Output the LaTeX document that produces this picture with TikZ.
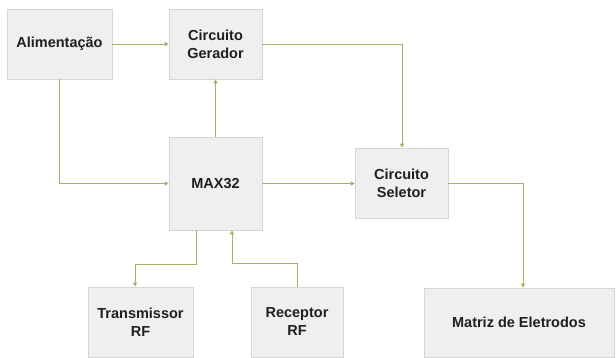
\documentclass[tikz,border=0pt]{standalone}
\usepackage{fontspec}
\setmainfont{Liberation Sans}
\usetikzlibrary{arrows.meta,shadows}
\definecolor{boxfill}{RGB}{239,239,239}
\definecolor{boxline}{RGB}{214,214,214}
\definecolor{linkc}{RGB}{160,180,100}
\tikzset{
  blk/.style={draw=boxline,fill=boxfill,line width=0.6pt,align=center,inner sep=0pt,
    font=\fontsize{14.5}{18}\selectfont\bfseries,text=black!88,
    drop shadow={shadow xshift=1pt,shadow yshift=-1.5pt,opacity=0.35,fill=black!40}},
  link/.style={draw=linkc,line width=0.8pt,-{Triangle[length=4pt,width=4pt]}}
}
\begin{document}
\begin{tikzpicture}[x=1pt,y=-1pt]
\useasboundingbox (0,0) rectangle (616,358);
\node[blk,minimum width=105pt,minimum height=70pt] (alim) at (59.5,44) {Alimentação};
\node[blk,minimum width=93pt,minimum height=70pt] (ger) at (215.5,44) {Circuito\\Gerador};
\node[blk,minimum width=93pt,minimum height=93pt] (max) at (215.5,183.5) {MAX32};
\node[blk,minimum width=93pt,minimum height=70pt] (sel) at (401.5,183) {Circuito\\Seletor};
\node[blk,minimum width=105pt,minimum height=70pt] (tx) at (140.5,322) {Transmissor\\RF};
\node[blk,minimum width=92pt,minimum height=70pt] (rx) at (297,322) {Receptor\\RF};
\node[blk,minimum width=190pt,minimum height=69pt] (mat) at (519,322.5) {Matriz de Eletrodos};
\coordinate (c1) at (402,44);
\coordinate (c2) at (59,183.5);
\coordinate (c3) at (523,183);
\coordinate (c4) at (196,264);
\coordinate (c5) at (135,264);
\coordinate (c6) at (297,263);
\coordinate (c7) at (232,263);
\draw[link] (alim.east) -- (ger.west);
\draw[link] (ger.east) -- (c1) -- (c1 |- sel.north);
\draw[link] (c2 |- alim.south) -- (c2) -- (max.west);
\draw[link] (max.north) -- (ger.south);
\draw[link] (max.east) -- (max.east -| sel.west);
\draw[link] (sel.east |- c3) -- (c3) -- (c3 |- mat.north);
\draw[link] (c4 |- max.south) -- (c4) -- (c5) -- (c5 |- tx.north);
\draw[link] (c6 |- rx.north) -- (c6) -- (c7) -- (c7 |- max.south);
\end{tikzpicture}
\end{document}
